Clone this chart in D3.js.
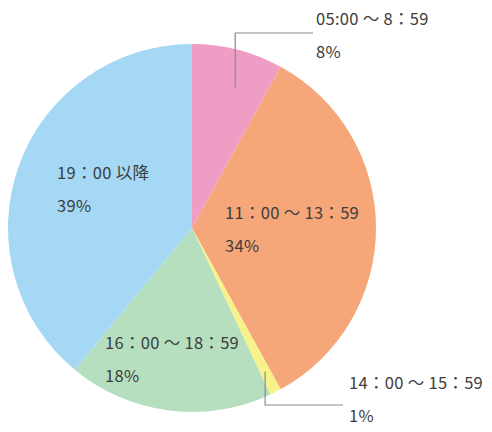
<!DOCTYPE html>
<html><head><meta charset="utf-8">
<script src="https://cdn.jsdelivr.net/npm/d3@7"></script>
<style>
html,body{margin:0;padding:0;background:#fff;}
svg{display:block;}
text{font-family:"Noto Sans CJK JP","Noto Sans",sans-serif;fill:#3d3d3d;}
</style></head>
<body>
<svg id="c" width="492" height="432"></svg>
<script>
const categories = ["05:00 ～ 8：59", "11：00 ～ 13：59", "14：00 ～ 15：59", "16：00 ～ 18：59", "19：00 以降"];
const values = [8, 34, 1, 18, 39];
const colors = ["#f09dc6", "#f5a77a", "#f8f28a", "#b6dfc0", "#a4d8f4"];

const W = 492, H = 432;
const cx = 192, cy = 228, R = 184;
const svg = d3.select("#c");
const g = svg.append("g").attr("transform", `translate(${cx},${cy})`);

const pie = d3.pie().sort(null).value(d => d)(values);
const arc = d3.arc().innerRadius(0).outerRadius(R);

g.selectAll("path").data(pie).join("path")
  .attr("d", arc)
  .attr("fill", (d, i) => colors[i]);

// label layout (absolute coords of first text line baseline)
const labelLayout = [
  {x: 316, y: 25, leader: {r: 147, da: 0.047, ly: 8, gap: 3}},
  {x: 225, y: 219},
  {x: 349, y: 389, leader: {r: 161, da: 0, ly: 16, gap: 6}},
  {x: 105, y: 349},
  {x: 57, y: 179}
];
const lineGap = 33;

pie.forEach((d, i) => {
  const L = labelLayout[i];
  const t = svg.append("text").attr("x", L.x).attr("y", L.y)
    .attr("font-size", 16.5).attr("letter-spacing", 0.3);
  t.append("tspan").attr("x", L.x).attr("dy", 0).text(categories[i]);
  t.append("tspan").attr("x", L.x).attr("dy", lineGap).text(values[i] + "%");
  if (L.leader) {
    const a = (d.startAngle + d.endAngle) / 2 + L.leader.da;
    const px = cx + L.leader.r * Math.sin(a);
    const py = cy - L.leader.r * Math.cos(a);
    svg.append("path")
      .attr("d", `M${px},${py}V${L.y + L.leader.ly}H${L.x - L.leader.gap}`)
      .attr("fill", "none")
      .attr("stroke", "#8a8a8a")
      .attr("stroke-width", 1.2);
  }
});
</script>
</body></html>
